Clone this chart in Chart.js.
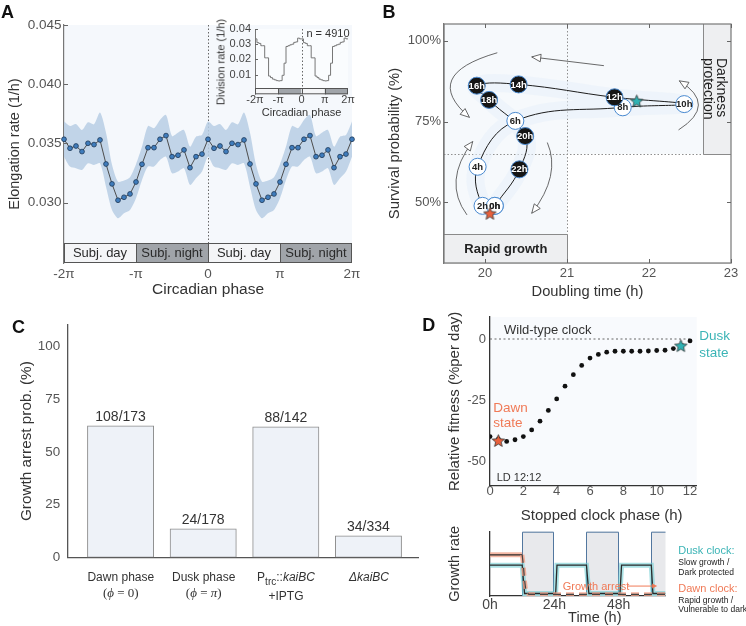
<!DOCTYPE html>
<html lang="en"><head><meta charset="utf-8">
<title>Circadian clock and growth</title>
<script src="https://cdn.jsdelivr.net/npm/chart.js@4.4.1/dist/chart.umd.min.js"></script>
<style>
html,body{margin:0;padding:0;background:#fff;}
#fig{position:relative;width:746px;height:626px;overflow:hidden;background:#fff;font-family:'Liberation Sans',Arial,Helvetica,sans-serif;color:#333;}
#fig canvas{position:absolute;}
.c,.l,.r90,.rm90{position:absolute;white-space:nowrap;line-height:1;}
.c{transform:translate(-50%,-50%);}
.l{transform:translate(0,-50%);}
.rm90{transform:translate(-50%,-50%) rotate(-90deg);}
.r90{transform-origin:0 0;transform:rotate(90deg) translateY(-50%);}
.lt{font-weight:bold;font-size:18px;color:#111;}
.serif{font-family:'Liberation Serif','DejaVu Serif',serif;}
</style></head>
<body>
<div id="fig">
<canvas id="cA" width="370" height="305" style="left:0;top:0"></canvas>
<canvas id="cAi" width="170" height="110" style="left:200px;top:15px"></canvas>
<canvas id="cB" width="368" height="305" style="left:378px;top:0"></canvas>
<canvas id="cC" width="420" height="316" style="left:0;top:310px"></canvas>
<canvas id="cD1" width="326" height="215" style="left:420px;top:310px"></canvas>
<canvas id="cD2" width="326" height="111" style="left:420px;top:515px"></canvas>

<div class="c lt" style="left:7.5px;top:11.5px">A</div>
<div class="c lt" style="left:389px;top:12px">B</div>
<div class="c lt" style="left:18.5px;top:326.7px">C</div>
<div class="c lt" style="left:428.8px;top:324.5px">D</div>

<div class="c" style="left:328px;top:33.3px;font-size:11px">n = 4910</div>
<div class="rm90" style="left:221px;top:61.5px;font-size:11px">Division rate (1/h)</div>

<div class="r90" style="left:721.7px;top:58px;font-size:14px;color:#222">Darkness</div>
<div class="r90" style="left:709px;top:58px;font-size:14px;color:#222">protection</div>
<div class="c" style="left:505.8px;top:248.3px;font-size:13px;font-weight:bold;color:#222">Rapid growth</div>

<div class="c" style="left:120.8px;top:576.7px;font-size:12px">Dawn phase</div>
<div class="c serif" style="left:120.8px;top:591.7px;font-size:13px">(<i>ϕ</i> = 0)</div>
<div class="c" style="left:203.7px;top:576.7px;font-size:12px">Dusk phase</div>
<div class="c serif" style="left:203.7px;top:591.7px;font-size:13px">(<i>ϕ</i> = <i>π</i>)</div>
<div class="c" style="left:286px;top:576.7px;font-size:12px">P<span style="font-size:10px;position:relative;top:4px">trc</span>::<i>kaiBC</i></div>
<div class="c" style="left:286px;top:596px;font-size:12px">+IPTG</div>
<div class="c" style="left:369px;top:576.7px;font-size:12px"><i>ΔkaiBC</i></div>

<div class="l" style="left:504px;top:329px;font-size:13px">Wild-type clock</div>
<div class="l" style="left:493.3px;top:407.7px;font-size:13.5px;color:#f07a57">Dawn</div>
<div class="l" style="left:493.3px;top:423.3px;font-size:13.5px;color:#f07a57">state</div>
<div class="l" style="left:699.3px;top:336px;font-size:13.5px;color:#3bb4b6">Dusk</div>
<div class="l" style="left:699.3px;top:352.7px;font-size:13.5px;color:#3bb4b6">state</div>
<div class="l" style="left:496.7px;top:476.7px;font-size:11px">LD 12:12</div>
<div class="c" style="left:601.7px;top:514px;font-size:15px">Stopped clock phase (h)</div>

<div class="l" style="left:562.7px;top:586px;font-size:11px;color:#f07a57">Growth arrest</div>
<div class="l" style="left:678.3px;top:550px;font-size:11px;color:#3bb4b6">Dusk clock:</div>
<div class="l" style="left:678.3px;top:562.3px;font-size:8.5px;color:#222">Slow growth /</div>
<div class="l" style="left:678.3px;top:572px;font-size:8.5px;color:#222">Dark protected</div>
<div class="l" style="left:678.3px;top:588.3px;font-size:11px;color:#f07a57">Dawn clock:</div>
<div class="l" style="left:678.3px;top:600px;font-size:8.5px;color:#222">Rapid growth /</div>
<div class="l" style="left:678.3px;top:609.3px;font-size:8.5px;color:#222">Vulnerable to dark</div>
<div class="c" style="left:594.8px;top:617.3px;font-size:14.5px">Time (h)</div>
</div>

<script>
// ======================= DATA =======================
// Panel A: elongation rate vs circadian phase (double-plotted, step pi/12)
const phaseTickLabels = ['-2π', '-π', '0', 'π', '2π'];
const elongTicks = [0.030, 0.035, 0.040, 0.045];
const elongRate = [
  0.03535, 0.03459, 0.03478, 0.03431, 0.03501, 0.03490, 0.03529, 0.03326, 0.03158, 0.03020, 0.03045, 0.03073,
  0.03174, 0.03324, 0.03464, 0.03464, 0.03535, 0.03566, 0.03388, 0.03400, 0.03445, 0.03295, 0.03388, 0.03410,
  0.03535, 0.03459, 0.03478, 0.03431, 0.03501, 0.03490, 0.03529, 0.03326, 0.03158, 0.03020, 0.03045, 0.03073,
  0.03174, 0.03324, 0.03464, 0.03464, 0.03535, 0.03566, 0.03388, 0.03400, 0.03445, 0.03295, 0.03388, 0.03410,
  0.03535
];
const elongUpper = [
  0.03684, 0.03647, 0.03664, 0.03613, 0.03678, 0.03661, 0.03760, 0.03591, 0.03320, 0.03177, 0.03186, 0.03214,
  0.03324, 0.03473, 0.03647, 0.03628, 0.03698, 0.03740, 0.03563, 0.03591, 0.03613, 0.03473, 0.03557, 0.03571,
  0.03684, 0.03647, 0.03664, 0.03613, 0.03678, 0.03661, 0.03760, 0.03591, 0.03320, 0.03177, 0.03186, 0.03214,
  0.03324, 0.03473, 0.03647, 0.03628, 0.03698, 0.03740, 0.03563, 0.03591, 0.03613, 0.03473, 0.03557, 0.03571,
  0.03684
];
const elongLower = [
  0.03388, 0.03304, 0.03290, 0.03276, 0.03332, 0.03318, 0.03332, 0.03135, 0.02938, 0.02868, 0.02910, 0.02938,
  0.03037, 0.03191, 0.03304, 0.03304, 0.03360, 0.03388, 0.03248, 0.03262, 0.03290, 0.03149, 0.03205, 0.03262,
  0.03388, 0.03304, 0.03290, 0.03276, 0.03332, 0.03318, 0.03332, 0.03135, 0.02938, 0.02868, 0.02910, 0.02938,
  0.03037, 0.03191, 0.03304, 0.03304, 0.03360, 0.03388, 0.03248, 0.03262, 0.03290, 0.03149, 0.03205, 0.03262,
  0.03388
];
const dayNightLabels = ['Subj. day', 'Subj. night', 'Subj. day', 'Subj. night'];
// Inset: division rate (stepped)
const divTicks = [0.01, 0.02, 0.03, 0.04];
const divRate = [
  0.0335, 0.0335, 0.0310, 0.0305, 0.0290, 0.0290, 0.0210, 0.0210, 0.0090, 0.0080, 0.0070, 0.0065,
  0.0060, 0.0058, 0.0060, 0.0095, 0.0175, 0.0285, 0.0290, 0.0296, 0.0300, 0.0312, 0.0315, 0.0340,
  0.0335, 0.0335, 0.0310, 0.0305, 0.0290, 0.0290, 0.0210, 0.0210, 0.0090, 0.0080, 0.0070, 0.0065,
  0.0060, 0.0058, 0.0060, 0.0095, 0.0175, 0.0285, 0.0290, 0.0296, 0.0300, 0.0312, 0.0315, 0.0340,
  0.0335
];

// Panel B: trajectory through the day
const nodeLabels   = ['0h', '2h', '4h', '6h', '8h', '10h', '12h', '14h', '16h', '18h', '20h', '22h'];
const doublingTime = [20.12, 19.97, 19.91, 20.37, 21.68, 22.43, 21.58, 20.41, 19.90, 20.05, 20.49, 20.42];
const survivalProb = [48.9, 48.9, 61.0, 75.2, 79.4, 80.4, 82.5, 86.5, 86.1, 81.7, 70.5, 60.2];
const stateDoubling = [20.06, 21.85];
const stateSurvival = [46.6, 81.4];
const doublingTicks = [20, 21, 22, 23];
const survivalTicks = [50, 75, 100];
const thresholdDoubling = 21;
const thresholdSurvival = 65;

// Panel C: growth arrest probability
const arrestCounts = ['108/173', '24/178', '88/142', '34/334'];
const arrestProb = [62.4, 13.5, 62.0, 10.2];
const arrestTicks = [0, 25, 50, 75, 100];

// Panel D: relative fitness vs stopped clock phase
const stoppedPhase = [0, 0.5, 1, 1.5, 2, 2.5, 3, 3.5, 4, 4.5, 5, 5.5, 6, 6.5, 7, 7.5, 8, 8.5, 9, 9.5, 10, 10.5, 11, 11.5, 12];
const relFitness = [-39.9, -41.0, -41.9, -41.2, -39.9, -37.2, -33.6, -29.2, -24.5, -19.3, -14.6, -10.8, -7.8,
  -6.3, -5.4, -5.0, -5.0, -5.0, -5.0, -4.9, -4.7, -4.6, -3.9, -2.7, -0.8];
const stateClockPhase = [0.5, 11.45];
const stateFitness = [-41.5, -2.7];
const wildTypeFitness = 0;
const phaseTicksD = [0, 2, 4, 6, 8, 10, 12];
const fitnessTicks = [-50, -25, 0];
// Panel D bottom: growth rate schematic
const duskTime   = [0, 12, 12.9, 24.5, 25, 36, 36.9, 48.5, 49.1, 60.2, 60.8, 65.5];
const duskGrowth = [0.48, 0.48, 0.04, 0.04, 0.48, 0.48, 0.04, 0.04, 0.48, 0.48, 0.04, 0.04];
const dawnTime   = [0, 12];
const dawnGrowth = [0.64, 0.64];
const arrestTime   = [12, 12.4, 12.9, 13.4, 14.5, 65.5];
const arrestGrowth = [0.64, 0.50, 0.25, 0.08, 0.025, 0.025];
const darkStart = [12, 36, 60];
const darkEnd   = [24, 48, 72];
const timeTicks = [0, 24, 48];

// annotation geometry (data coordinates)
const cycleArrows = [
  { from: [21.45, 92.3], ctrl: null,          to: [20.57, 95.0] },
  { from: [20.15, 96.3], ctrl: [19.21, 89.4], to: [19.81, 76.3] },
  { from: [19.78, 46.1], ctrl: [19.48, 56.4], to: [19.85, 68.8] },
  { from: [20.76, 68.5], ctrl: [20.93, 58.4], to: [20.57, 46.6] },
  { from: [22.36, 72.4], ctrl: [22.84, 80.2], to: [22.37, 87.6] }
];
const darknessBoxX = 22.66;
const rapidBoxY = 40.2;
const arrestArrow = { from: 51.5, to: 62.4, level: 0.155 };

// ======================= SETUP =======================
Chart.defaults.font.family = "'Liberation Sans', Arial, Helvetica, sans-serif";
Chart.defaults.color = '#555';
Chart.defaults.animation = false;
Chart.defaults.responsive = false;
Chart.defaults.plugins.legend.display = false;
Chart.defaults.plugins.tooltip.enabled = false;

const fixW = w => s => { s.width = w; s.paddingTop = s.paddingBottom = s.paddingLeft = s.paddingRight = 0; };
const fixH = h => s => { s.height = h; s.paddingTop = s.paddingBottom = s.paddingLeft = s.paddingRight = 0; };
const setTicks = vals => s => { s.ticks = vals.map(v => ({ value: v })); };
const noGrid = { display: false, drawTicks: false };

function starImg(fill, r) {
  const c = document.createElement('canvas');
  const s = Math.ceil(r * 2 + 4);
  c.width = c.height = s;
  const g = c.getContext('2d');
  g.translate(s / 2, s / 2 + r * 0.1);
  g.beginPath();
  for (let i = 0; i < 10; i++) {
    const rr = i % 2 ? r * 0.45 : r;
    const a = -Math.PI / 2 + i * Math.PI / 5;
    g.lineTo(rr * Math.cos(a), rr * Math.sin(a));
  }
  g.closePath();
  g.fillStyle = fill; g.fill();
  g.strokeStyle = '#333'; g.lineWidth = 0.8; g.stroke();
  return c;
}
const starRed = starImg('#e8603c', 6.5);
const starCyan = starImg('#2fb3b5', 6.5);

const plotBg = { id: 'plotBg', beforeDraw(chart, a, o) {
  if (!o || !o.color) return;
  const { ctx, chartArea: c } = chart;
  ctx.save(); ctx.fillStyle = o.color; ctx.fillRect(c.left, c.top, c.right - c.left, c.bottom - c.top); ctx.restore();
} };

const innerTicks = { id: 'innerTicks', afterDraw(chart, a, o) {
  const sides = (o && o.sides) || [];
  if (!sides.length) return;
  const { ctx, chartArea: c, scales: { x, y } } = chart;
  const L = o.len || 4;
  ctx.save(); ctx.strokeStyle = o.color || '#666'; ctx.lineWidth = 1; ctx.beginPath();
  y.ticks.forEach(t => {
    const p = Math.round(y.getPixelForValue(t.value)) + 0.5;
    if (sides.includes('left')) { ctx.moveTo(c.left, p); ctx.lineTo(c.left + L, p); }
    if (sides.includes('right')) { ctx.moveTo(c.right, p); ctx.lineTo(c.right - L, p); }
  });
  x.ticks.forEach(t => {
    const p = Math.round(x.getPixelForValue(t.value)) + 0.5;
    if (sides.includes('bottom')) { ctx.moveTo(p, c.bottom); ctx.lineTo(p, c.bottom - L); }
    if (sides.includes('top')) { ctx.moveTo(p, c.top); ctx.lineTo(p, c.top + L); }
  });
  ctx.stroke(); ctx.restore();
} };

// day/night strip for panel A (tick positions of the category axis)
const phaseBand = {
  id: 'phaseBand',
  beforeDatasetsDraw(chart, a, o) {
    const { ctx, chartArea: c, scales: { x } } = chart;
    const top = c.bottom - o.height;
    const xp = x.getPixelForValue(24);
    ctx.save(); ctx.strokeStyle = '#666'; ctx.lineWidth = 1; ctx.setLineDash([1.5, 2]);
    ctx.beginPath(); ctx.moveTo(Math.round(xp) + 0.5, c.top); ctx.lineTo(Math.round(xp) + 0.5, top); ctx.stroke();
    ctx.restore();
  },
  afterDatasetsDraw(chart, a, o) {
    const { ctx, chartArea: c, scales: { x } } = chart;
    const top = c.bottom - o.height;
    ctx.save();
    for (let k = 0; k < 4; k++) {
      const x0 = x.getPixelForValue(k * 12), x1 = x.getPixelForValue((k + 1) * 12);
      ctx.fillStyle = k % 2 ? '#a0a4a9' : '#f4f5f7';
      ctx.fillRect(x0, top, x1 - x0, o.height);
      if (o.labels) {
        ctx.fillStyle = '#2a2a2a'; ctx.font = o.font; ctx.textAlign = 'center'; ctx.textBaseline = 'middle';
        ctx.fillText(dayNightLabels[k], (x0 + x1) / 2, top + o.height / 2 + 0.5);
      }
    }
    ctx.strokeStyle = '#555'; ctx.lineWidth = 1;
    ctx.strokeRect(c.left + 0.5, top + 0.5, c.right - c.left - 1, o.height - 1);
    ctx.beginPath();
    for (let k = 1; k < 4; k++) { const xx = Math.round(x.getPixelForValue(k * 12)) + 0.5; ctx.moveTo(xx, top); ctx.lineTo(xx, c.bottom); }
    ctx.stroke();
    ctx.restore();
  }
};

// ======================= PANEL A =======================
const phaseIdx = elongRate.map((_, i) => i);
new Chart(document.getElementById('cA'), {
  type: 'line',
  data: { labels: phaseIdx, datasets: [
    { data: elongRate, borderColor: '#4d4d4d', borderWidth: 1, pointRadius: 2.4, pointBackgroundColor: '#3f7cbc',
      pointBorderColor: '#1f3a58', pointBorderWidth: 0.8, fill: false },
    { data: elongUpper, borderWidth: 0, borderColor: 'rgba(0,0,0,0)', pointRadius: 0, fill: '+1',
      backgroundColor: 'rgba(183,206,228,0.85)', tension: 0.25 },
    { data: elongLower, borderWidth: 0, borderColor: 'rgba(0,0,0,0)', pointRadius: 0, fill: false, tension: 0.25 }
  ] },
  options: {
    layout: { padding: { left: 0, top: 25, right: 18, bottom: 5.7 } },
    scales: {
      x: { type: 'category', offset: false, grid: noGrid, border: { display: false },
        ticks: { autoSkip: false, maxRotation: 0, padding: 3, color: '#555', font: { size: 13.5 },
          callback: (v, i) => i % 12 === 0 ? phaseTickLabels[i / 12] : '' },
        afterFit: fixH(36.3),
        title: { display: true, text: 'Circadian phase', color: '#333', font: { size: 15.5 }, padding: 0 } },
      y: { min: 0.0249, max: 0.045, grid: noGrid, border: { color: '#777', width: 1.2 },
        afterBuildTicks: setTicks(elongTicks),
        ticks: { padding: 2.5, color: '#555', font: { size: 13.5 }, callback: v => v.toFixed(3) },
        afterFit: fixW(64),
        title: { display: true, text: 'Elongation rate (1/h)', color: '#333', font: { size: 14.5 }, padding: { top: 6.3, bottom: 0 } } }
    },
    plugins: { plotBg: { color: '#f5f8fc' }, phaseBand: { height: 20, labels: true, font: "13px 'Liberation Sans', Arial" },
      innerTicks: { sides: ['left'] } }
  },
  plugins: [plotBg, phaseBand, innerTicks]
});

// inset
new Chart(document.getElementById('cAi'), {
  type: 'line',
  data: { labels: phaseIdx, datasets: [
    { data: divRate, stepped: 'after', borderColor: '#777', borderWidth: 1, pointRadius: 0, fill: false }
  ] },
  options: {
    layout: { padding: { left: 0, top: 14, right: 22, bottom: 5.1 } },
    scales: {
      x: { type: 'category', offset: false, grid: noGrid, border: { display: false },
        ticks: { autoSkip: false, maxRotation: 0, padding: 0, color: '#444', font: { size: 11, lineHeight: 1 },
          callback: (v, i) => i % 12 === 0 ? phaseTickLabels[i / 12] : '' },
        afterFit: fixH(25.6),
        title: { display: true, text: 'Circadian phase', color: '#333', font: { size: 11 }, padding: 0 } },
      y: { min: -0.003, max: 0.04, grid: noGrid, border: { color: '#777', width: 1 },
        afterBuildTicks: setTicks(divTicks),
        ticks: { padding: 4, color: '#444', font: { size: 11 }, callback: v => v.toFixed(2) },
        afterFit: fixW(55) }
    },
    plugins: { plotBg: { color: '#fafcfe' }, phaseBand: { height: 6.3, labels: false }, innerTicks: { sides: ['left'], len: 3 } }
  },
  plugins: [plotBg, phaseBand, innerTicks]
});

// ======================= PANEL B =======================
const nodePts = doublingTime.map((x, i) => ({ x, y: survivalProb[i] }));
const loopPts = nodePts.concat([nodePts[0]]);
const nodeFill = loopPts.map((_, i) => (i % 12) >= 6 ? '#151515' : '#ffffff');

function drawArrow(ctx, p0, pc, p1) {
  ctx.beginPath(); ctx.moveTo(p0[0], p0[1]);
  if (pc) ctx.quadraticCurveTo(pc[0], pc[1], p1[0], p1[1]); else ctx.lineTo(p1[0], p1[1]);
  ctx.stroke();
  const d = pc || p0;
  const ang = Math.atan2(p1[1] - d[1], p1[0] - d[0]);
  const L = 9, W = 3.8;
  ctx.beginPath(); ctx.moveTo(p1[0], p1[1]);
  ctx.lineTo(p1[0] - L * Math.cos(ang) + W * Math.sin(ang), p1[1] - L * Math.sin(ang) - W * Math.cos(ang));
  ctx.lineTo(p1[0] - L * Math.cos(ang) - W * Math.sin(ang), p1[1] - L * Math.sin(ang) + W * Math.cos(ang));
  ctx.closePath(); ctx.fillStyle = '#fff'; ctx.fill(); ctx.stroke();
}

const bDecor = {
  id: 'bDecor',
  beforeDatasetsDraw(chart) {
    const { ctx, chartArea: c, scales: { x, y } } = chart;
    const px = v => x.getPixelForValue(v), py = v => y.getPixelForValue(v);
    ctx.save();
    ctx.fillStyle = '#ffffff';
    ctx.fillRect(px(thresholdDoubling), py(thresholdSurvival), c.right - px(thresholdDoubling), c.bottom - py(thresholdSurvival));
    ctx.fillStyle = '#eeeff1'; ctx.strokeStyle = '#8a8a8a'; ctx.lineWidth = 1;
    const dx = Math.round(px(darknessBoxX)) + 0.5, dy = Math.round(py(thresholdSurvival)) + 0.5;
    ctx.fillRect(dx, c.top, c.right - dx, dy - c.top);
    ctx.beginPath(); ctx.moveTo(dx, c.top); ctx.lineTo(dx, dy); ctx.lineTo(c.right, dy); ctx.stroke();
    const rx = Math.round(px(thresholdDoubling)) + 0.5, ry = Math.round(py(rapidBoxY)) + 0.5;
    ctx.fillRect(c.left, ry, rx - c.left, c.bottom - ry);
    ctx.beginPath(); ctx.moveTo(c.left, ry); ctx.lineTo(rx, ry); ctx.lineTo(rx, c.bottom); ctx.stroke();
    ctx.strokeStyle = '#8f8f8f'; ctx.setLineDash([1.5, 2]);
    ctx.beginPath();
    ctx.moveTo(rx, c.top); ctx.lineTo(rx, ry);
    ctx.moveTo(c.left, dy); ctx.lineTo(dx, dy);
    ctx.stroke();
    ctx.setLineDash([]);
    ctx.strokeStyle = '#444'; ctx.lineWidth = 0.8;
    cycleArrows.forEach(ar => {
      const p0 = [px(ar.from[0]), py(ar.from[1])];
      const pc = ar.ctrl ? [px(ar.ctrl[0]), py(ar.ctrl[1])] : null;
      const p1 = [px(ar.to[0]), py(ar.to[1])];
      drawArrow(ctx, p0, pc, p1);
    });
    ctx.restore();
  },
  afterDatasetDraw(chart, args) {
    if (args.index !== 1) return;
    const ctx = chart.ctx;
    ctx.save(); ctx.font = "bold 9.5px 'Liberation Sans', Arial"; ctx.textAlign = 'center'; ctx.textBaseline = 'middle';
    nodeLabels.forEach((lab, i) => {
      const el = args.meta.data[i];
      ctx.fillStyle = i >= 6 ? '#ffffff' : '#222';
      ctx.fillText(lab, el.x, el.y + 0.5);
    });
    const el0 = args.meta.data[0];
    ctx.fillStyle = '#222'; ctx.fillText(nodeLabels[0], el0.x, el0.y + 0.5);
    ctx.restore();
  },
  afterDraw(chart) {
    const { ctx, chartArea: c } = chart;
    ctx.save(); ctx.strokeStyle = '#777'; ctx.lineWidth = 1.2;
    ctx.strokeRect(c.left, c.top, c.right - c.left, c.bottom - c.top);
    ctx.restore();
  }
};

new Chart(document.getElementById('cB'), {
  type: 'scatter',
  data: { datasets: [
    { data: stateDoubling.map((x, i) => ({ x, y: stateSurvival[i] })), pointStyle: [starRed, starCyan], pointRadius: 6, showLine: false },
    { data: loopPts, showLine: true, tension: 0.4, borderColor: '#1e1e1e', borderWidth: 1, pointRadius: 8.5,
      pointBackgroundColor: nodeFill, pointBorderColor: '#4a8ad0', pointBorderWidth: 1 },
    { data: loopPts, showLine: true, tension: 0.4, borderColor: 'rgba(232,240,249,0.55)', borderWidth: 18, pointRadius: 0,
      borderJoinStyle: 'round', borderCapStyle: 'round' }
  ] },
  options: {
    layout: { padding: { left: 0, top: 24, right: 15, bottom: 4.4 } },
    scales: {
      x: { type: 'linear', min: 19.5, max: 23, grid: noGrid, border: { color: '#777', width: 1.2 },
        afterBuildTicks: setTicks(doublingTicks),
        ticks: { padding: 2.2, color: '#555', font: { size: 13 } },
        afterFit: fixH(37.6),
        title: { display: true, text: 'Doubling time (h)', color: '#333', font: { size: 14.7 }, padding: 0 } },
      y: { type: 'linear', min: 31.2, max: 105.2, grid: noGrid, border: { color: '#777', width: 1.2 },
        afterBuildTicks: setTicks(survivalTicks),
        ticks: { padding: 3, color: '#555', font: { size: 13 }, callback: v => v + '%' },
        afterFit: fixW(66),
        title: { display: true, text: 'Survival probability (%)', color: '#333', font: { size: 14.8 }, padding: { top: 8.1, bottom: 0 } } }
    },
    plugins: { plotBg: { color: '#f6f9fc' }, innerTicks: { sides: ['left', 'right', 'bottom', 'top'] } }
  },
  plugins: [plotBg, bDecor, innerTicks]
});

// ======================= PANEL C =======================
const barText = { id: 'barText', afterDatasetsDraw(chart) {
  const ctx = chart.ctx; const meta = chart.getDatasetMeta(0);
  ctx.save(); ctx.fillStyle = '#333'; ctx.font = "14px 'Liberation Sans', Arial"; ctx.textAlign = 'center'; ctx.textBaseline = 'middle';
  meta.data.forEach((el, i) => ctx.fillText(arrestCounts[i], el.x, el.y - 9));
  ctx.restore();
} };
new Chart(document.getElementById('cC'), {
  type: 'bar',
  data: { datasets: [
    { data: arrestProb.map((y, i) => ({ x: i, y })), backgroundColor: '#eef2f8', borderColor: '#8c8c8c', borderWidth: 1,
      barThickness: 66.3, borderSkipped: false }
  ] },
  options: {
    layout: { padding: { left: 0, top: 15, right: 2, bottom: 38.7 } },
    scales: {
      x: { type: 'linear', min: -0.64, max: 3.6, offset: false, grid: noGrid, ticks: { display: false },
        border: { color: '#555', width: 1.3 }, afterFit: fixH(30) },
      y: { min: 0, max: 110.3, grid: noGrid, border: { color: '#555', width: 1.3 },
        afterBuildTicks: setTicks(arrestTicks),
        ticks: { padding: 7.5, color: '#555', font: { size: 13.4 } },
        afterFit: fixW(67.7),
        title: { display: true, text: 'Growth arrest prob. (%)', color: '#333', font: { size: 15.3 }, padding: { top: 17.5, bottom: 0 } } }
    }
  },
  plugins: [barText]
});

// ======================= PANEL D (top) =======================
new Chart(document.getElementById('cD1'), {
  type: 'scatter',
  data: { datasets: [
    { data: stateClockPhase.map((x, i) => ({ x, y: stateFitness[i] })), pointStyle: [starRed, starCyan], pointRadius: 6 },
    { data: stoppedPhase.map((x, i) => ({ x, y: relFitness[i] })), pointRadius: 2.4, pointBackgroundColor: '#111', pointBorderWidth: 0 },
    { data: [{ x: stoppedPhase[0], y: wildTypeFitness }, { x: stoppedPhase[stoppedPhase.length - 1], y: wildTypeFitness }],
      showLine: true, borderColor: '#666', borderWidth: 1, borderDash: [2, 2.5], pointRadius: 0 }
  ] },
  options: {
    layout: { padding: { left: 0, top: 5, right: 49.3, bottom: 2 } },
    scales: {
      x: { type: 'linear', min: 0, max: 12.4, grid: noGrid, border: { color: '#333', width: 1.3 },
        afterBuildTicks: setTicks(phaseTicksD),
        ticks: { padding: -1, color: '#555', font: { size: 13, lineHeight: 1 } },
        afterFit: fixH(37.3) },
      y: { type: 'linear', min: -60, max: 9, grid: noGrid, border: { color: '#333', width: 1.3 },
        afterBuildTicks: setTicks(fitnessTicks),
        ticks: { padding: 4, color: '#555', font: { size: 13 } },
        afterFit: fixW(70),
        title: { display: true, text: 'Relative fitness (%per day)', color: '#333', font: { size: 15 }, padding: { top: 26, bottom: 0 } } }
    },
    plugins: { plotBg: { color: '#f8fafd' } }
  },
  plugins: [plotBg]
});

// ======================= PANEL D (bottom) =======================
const darkRects = {
  id: 'darkRects',
  beforeDatasetsDraw(chart) {
    const { ctx, chartArea: c, scales: { x } } = chart;
    ctx.save(); ctx.beginPath(); ctx.rect(c.left, c.top - 1, c.right - c.left, c.bottom - c.top + 1); ctx.clip();
    darkStart.forEach((s, i) => {
      const x0 = Math.round(x.getPixelForValue(s)) + 0.5, x1 = Math.round(x.getPixelForValue(darkEnd[i])) - 0.5;
      ctx.fillStyle = '#e8e9ec'; ctx.fillRect(x0, c.top, x1 - x0, c.bottom - c.top);
      ctx.strokeStyle = '#52779f'; ctx.lineWidth = 1;
      ctx.beginPath(); ctx.moveTo(x0, c.bottom); ctx.lineTo(x0, c.top + 0.5); ctx.lineTo(x1, c.top + 0.5); ctx.lineTo(x1, c.bottom); ctx.stroke();
    });
    ctx.restore();
  },
  afterDatasetsDraw(chart) {
    const { ctx, scales: { x, y } } = chart;
    const x0 = x.getPixelForValue(arrestArrow.from), x1 = x.getPixelForValue(arrestArrow.to), yy = y.getPixelForValue(arrestArrow.level);
    ctx.save(); ctx.strokeStyle = '#f07a57'; ctx.fillStyle = '#f07a57'; ctx.lineWidth = 1;
    ctx.beginPath(); ctx.moveTo(x0, yy); ctx.lineTo(x1 - 4, yy); ctx.stroke();
    ctx.beginPath(); ctx.moveTo(x1, yy); ctx.lineTo(x1 - 5, yy - 2.5); ctx.lineTo(x1 - 5, yy + 2.5); ctx.closePath(); ctx.fill();
    ctx.restore();
  }
};
const pts = (t, g) => t.map((x, i) => ({ x, y: g[i] }));
new Chart(document.getElementById('cD2'), {
  type: 'scatter',
  data: { datasets: [
    { data: pts(arrestTime, arrestGrowth), showLine: true, borderColor: '#444', borderWidth: 1.2, borderDash: [8, 5], pointRadius: 0 },
    { data: pts(arrestTime, arrestGrowth), showLine: true, borderColor: 'rgba(242,160,135,0.8)', borderWidth: 4.5, borderDash: [8, 5], pointRadius: 0 },
    { data: pts(duskTime, duskGrowth), showLine: true, borderColor: '#2a2a2a', borderWidth: 1.3, pointRadius: 0 },
    { data: pts(dawnTime, dawnGrowth), showLine: true, borderColor: '#2a2a2a', borderWidth: 1.3, pointRadius: 0 },
    { data: pts(duskTime, duskGrowth), showLine: true, borderColor: 'rgba(112,205,210,0.6)', borderWidth: 5, pointRadius: 0 },
    { data: pts(dawnTime, dawnGrowth), showLine: true, borderColor: 'rgba(242,160,135,0.75)', borderWidth: 5, pointRadius: 0 }
  ] },
  options: {
    layout: { padding: { left: 0, top: 16.7, right: 80.5, bottom: 1.45 } },
    scales: {
      x: { type: 'linear', min: 0, max: 65.5, grid: noGrid, border: { color: '#333', width: 1.3 },
        afterBuildTicks: setTicks(timeTicks),
        ticks: { padding: 2, color: '#444', font: { size: 14, lineHeight: 1 }, callback: v => v + 'h' },
        afterFit: fixH(28.5) },
      y: { type: 'linear', min: 0, max: 1, grid: noGrid, border: { color: '#333', width: 1.3 },
        ticks: { display: false },
        afterFit: fixW(70),
        title: { display: true, text: 'Growth rate', color: '#333', font: { size: 14.5 }, padding: { top: 26.3, bottom: 0 } } }
    }
  },
  plugins: [darkRects]
});
</script>
</body></html>
